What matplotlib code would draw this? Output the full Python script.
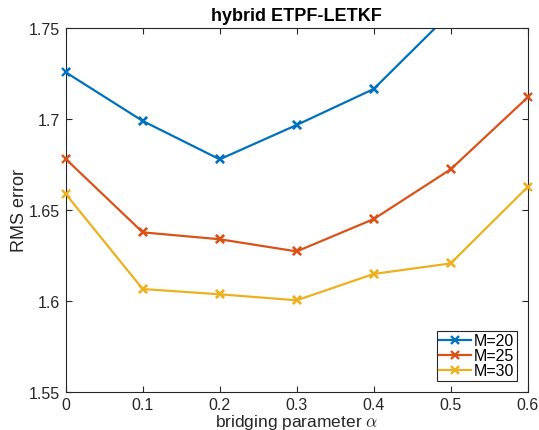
import matplotlib
matplotlib.use("Agg")
import matplotlib.pyplot as plt
import numpy as np
from matplotlib.ticker import FixedLocator, FixedFormatter

plt.rcParams['font.family'] = ['Liberation Sans', 'DejaVu Sans']
plt.rcParams['mathtext.fontset'] = 'cm'

alpha = [0, 0.1, 0.2, 0.3, 0.4, 0.5, 0.6]
m20 = [1.7258, 1.6990, 1.6779, 1.6968, 1.7166, 1.7586, 1.80]
m25 = [1.6781, 1.6377, 1.6339, 1.6272, 1.6450, 1.6724, 1.7120]
m30 = [1.6588, 1.6065, 1.6036, 1.6003, 1.6148, 1.6206, 1.6627]
labels = ['M=20', 'M=25', 'M=30']
colors = ['#0072BD', '#D95319', '#EDB120']
yticks = [1.55, 1.6, 1.65, 1.7, 1.75]
ytick_labels = ['1.55', '1.6', '1.65', '1.7', '1.75']
xticks = [0, 0.1, 0.2, 0.3, 0.4, 0.5, 0.6]
xtick_labels = ['0', '0.1', '0.2', '0.3', '0.4', '0.5', '0.6']
ylim = (1.55, 1.75)

fig = plt.figure(figsize=(5.39, 4.31), dpi=100)
ax = fig.add_axes([0.1219, 0.0889, 0.979 - 0.1219, 0.932 - 0.0889])

for ys, lab, c in zip([m20, m25, m30], labels, colors):
    ax.plot(alpha, ys, color=c, lw=1.6, marker='x', ms=5.5, mew=1.7, label=lab)
    xa = np.array(alpha)
    ya = np.array(ys)
    inside = (ya >= ylim[0]) & (ya <= ylim[1])
    ax.plot(xa[inside], ya[inside], ls='none', color=c, marker='x', ms=5.5, mew=1.7,
            clip_on=False, zorder=3)

ax.set_xlim(0, 0.6)
ax.set_ylim(*ylim)
ax.xaxis.set_major_locator(FixedLocator(xticks))
ax.xaxis.set_major_formatter(FixedFormatter(xtick_labels))
ax.yaxis.set_major_locator(FixedLocator(yticks))
ax.yaxis.set_major_formatter(FixedFormatter(ytick_labels))
ax.tick_params(direction='in', top=True, right=True, labelsize=11.5, colors='#262626',
               length=4, width=0.8)
ax.tick_params(axis='x', pad=4)
ax.tick_params(axis='y', pad=4)
for s in ax.spines.values():
    s.set_color('#262626')
    s.set_linewidth(0.8)

ax.set_title('hybrid ETPF-LETKF', fontsize=13, fontweight='bold', pad=6)
ax.set_xlabel(r'bridging parameter $\alpha$', fontsize=12.5, color='#262626', labelpad=0)
ax.set_ylabel('RMS error', fontsize=13, color='#262626', labelpad=1)

leg = ax.legend(loc='lower right', fontsize=11.5, fancybox=False, edgecolor='#262626',
                framealpha=1, borderpad=0.15, labelspacing=0.0, handlelength=2.0,
                handletextpad=0.15, borderaxespad=0.7)
leg.get_frame().set_linewidth(0.8)
leg.set_zorder(5)

fig.savefig('out.png', dpi=100)
